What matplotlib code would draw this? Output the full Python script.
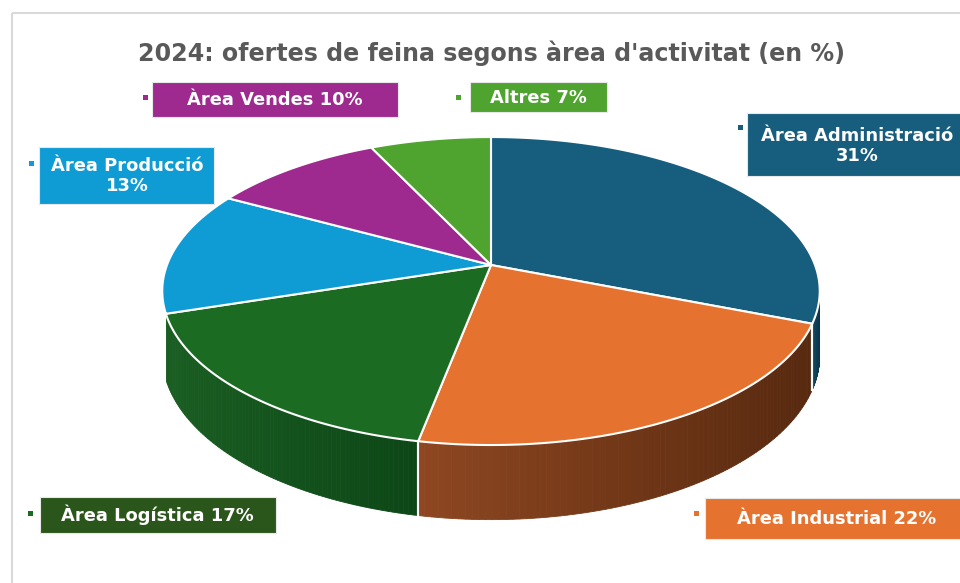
import numpy as np
import matplotlib
matplotlib.use("Agg")
import matplotlib.pyplot as plt
from matplotlib.patches import Polygon, Rectangle

# ---------------- data ----------------
title = "2024: ofertes de feina segons àrea d'activitat (en %)"
categories = ["Àrea Administració", "Àrea Industrial", "Àrea Logística",
              "Àrea Producció", "Àrea Vendes", "Altres"]
values = [31, 22, 17, 13, 10, 7]

# ---------------- style ----------------
top_colors = ["#175E7E", "#E6722F", "#1B6B23", "#0F9CD5", "#9E2A8F", "#4EA42E"]
box_colors = ["#175E7E", "#E6722F", "#2A561B", "#0F9CD5", "#9E2A8F", "#4EA42E"]
side_light = ["#114a63", "#8E4721", "#1A5E22", "#0b6f98", "#6f1e65", "#377520"]
side_dark = ["#0c3345", "#57290F", "#0D4617", "#08506e", "#4f1548", "#27531a"]
FONT = ["DejaVu Sans"]

W, H = 960, 583
fig = plt.figure(figsize=(W / 100, H / 100), dpi=100)
ax = fig.add_axes([0, 0, 1, 1])
ax.set_xlim(0, W)
ax.set_ylim(H, 0)
ax.axis("off")
renderer = fig.canvas.get_renderer()

# chart border
ax.add_patch(Rectangle((12, 13), 1200, 1200, fill=False, ec="#d9d9d9", lw=1.5))

# projection of the tilted pie (perspective)
cx, cy, A, B, k, D = 491, 265, 324, 149.6, 0.169, 62


def proj(phi_deg, r=1.0, drop=0.0):
    p = np.radians(phi_deg)
    u = r * np.sin(p)
    v = -r * np.cos(p)
    w = 1 - k * v
    return cx + A * u / w, cy + (B * v + D * drop) / w


vals = np.array(values, dtype=float)
ends = np.cumsum(vals) / vals.sum() * 360
starts = np.concatenate([[0], ends[:-1]])

vis0 = np.degrees(np.arccos(-k)) + 3
vis1 = 360 - vis0 - 6


def mix(c1, c2, t):
    a = np.array(matplotlib.colors.to_rgb(c1))
    b = np.array(matplotlib.colors.to_rgb(c2))
    return tuple(a + (b - a) * t)


# side walls
for i, (a0, a1) in enumerate(zip(starts, ends)):
    s0, s1 = max(a0, vis0), min(a1, vis1)
    if s1 <= s0:
        continue
    phis = np.linspace(s0, s1, 80)
    xs = [proj(p)[0] for p in phis]
    xmin, xmax = min(xs), max(xs)
    for j in range(len(phis) - 1):
        pa, pb = phis[j], phis[j + 1]
        pts = [proj(pa), proj(pb), proj(pb, drop=1), proj(pa, drop=1)]
        xm = (proj(pa)[0] + proj(pb)[0]) / 2
        t = 0 if xmax == xmin else (xm - xmin) / (xmax - xmin)
        col = mix(side_light[i], side_dark[i], t)
        ax.add_patch(Polygon(pts, closed=True, fc=col, ec=col, lw=0.6))
    for b in (a0, a1):
        if vis0 < b < vis1:
            x0, y0 = proj(b)
            x1, y1 = proj(b, drop=1)
            ax.plot([x0, x1], [y0, y1], color="white", lw=1.5)

# top faces
for i, (a0, a1) in enumerate(zip(starts, ends)):
    phis = np.linspace(a0, a1, 120)
    pts = [(cx, cy)] + [proj(p) for p in phis]
    ax.add_patch(Polygon(pts, closed=True, fc=top_colors[i], ec="white", lw=1.5,
                         joinstyle="round"))


def fit_size(strings, targets):
    meas = 0.0
    for s in strings:
        t = ax.text(0, 0, s, fontsize=10, fontweight="bold", family=FONT)
        meas += t.get_window_extent(renderer).width
        t.remove()
    return 10 * sum(targets) / meas


# title
tsize = fit_size([title], [712])
ax.text(491, 53, title, ha="center", va="center", fontsize=tsize,
        fontweight="bold", color="#595959", family=FONT)

# data label boxes
first_lines = [categories[0], f"{categories[1]} {values[1]}%",
               f"{categories[2]} {values[2]}%", categories[3],
               f"{categories[4]} {values[4]}%", f"{categories[5]} {values[5]}%"]
target_w = [190, 199, 195, 155, 176, 96]
lsize = fit_size(first_lines, target_w)

texts = [f"{categories[0]}\n{values[0]}%", first_lines[1], first_lines[2],
         f"{categories[3]}\n{values[3]}%", first_lines[4], first_lines[5]]
layout = [
    (747, 113, 970, 176, 857, 146, 740, 127),
    (705, 498, 970, 539, 837, 519, 696, 513),
    (40, 497, 276, 533, 157, 515, 30, 513),
    (39, 147, 214, 204, 127, 176, 31, 163),
    (152, 82, 398, 117, 275, 100, 145, 97),
    (470, 82, 607, 112, 538, 98, 458, 97),
]
for i, (x0, y0, x1, y1, tx, ty, mx, my) in enumerate(layout):
    ax.add_patch(Rectangle((x0, y0), x1 - x0, y1 - y0, fc=box_colors[i],
                           ec="#e8e8e8", lw=0.8))
    ax.add_patch(Rectangle((mx - 2.5, my - 2.5), 5, 5, fc=top_colors[i], ec="none"))
    ax.text(tx, ty, texts[i], ha="center", va="center", color="white",
            fontweight="bold", fontsize=lsize, family=FONT, linespacing=1.15)

fig.savefig("out.png", dpi=100)
